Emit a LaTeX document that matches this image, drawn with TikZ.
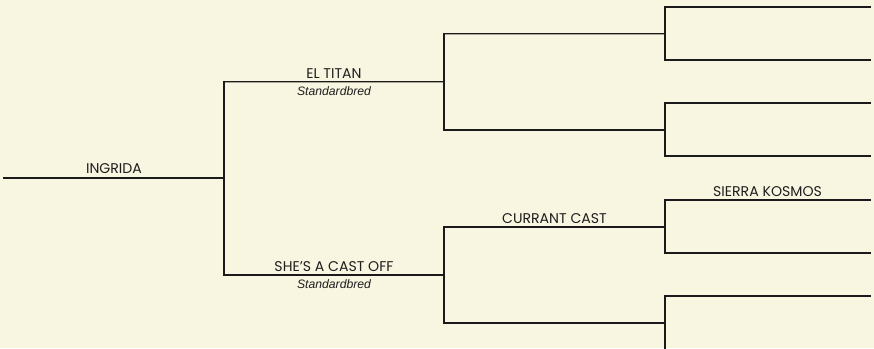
\documentclass[tikz,border=0pt]{standalone}
\usetikzlibrary{calc}
\usepackage{fontspec}
\setmainfont{Poppins}
\newfontfamily\breedfont{Liberation Sans}
\definecolor{bgcol}{HTML}{F8F5E0}
\definecolor{linecol}{HTML}{1A1A1A}
\definecolor{shadowcol}{HTML}{A8A696}
\definecolor{textcol}{HTML}{1E1E1E}
\begin{document}
\begin{tikzpicture}[x=1pt,y=-1pt,
  pedline/.style={draw=linecol,line width=1.4pt,line cap=rect},
  namelabel/.style={anchor=base,inner sep=0pt,text=textcol,font=\fontsize{14.1}{16}\selectfont},
  breedlabel/.style={anchor=base,inner sep=0pt,text=textcol,font=\breedfont\itshape\fontsize{12.2}{14}\selectfont}]
\useasboundingbox[fill=bgcol] (0,0) rectangle (874,348);
% generation 1
\coordinate (s1) at (4,178);   \coordinate (e1) at (224,178);
% generation 2
\coordinate (s2a) at (224,81.5); \coordinate (e2a) at (444,81.5);
\coordinate (s2b) at (224,275);  \coordinate (e2b) at (444,275);
% generation 3
\coordinate (s3a) at (444,33.5); \coordinate (e3a) at (665,33.5);
\coordinate (s3b) at (444,130);  \coordinate (e3b) at (665,130);
\coordinate (s3c) at (444,227);  \coordinate (e3c) at (665,227);
\coordinate (s3d) at (444,323);  \coordinate (e3d) at (665,323);
% generation 4
\coordinate (s4a) at (665,7);   \coordinate (e4a) at (870,7);
\coordinate (s4b) at (665,60);  \coordinate (e4b) at (870,60);
\coordinate (s4c) at (665,103); \coordinate (e4c) at (870,103);
\coordinate (s4d) at (665,156); \coordinate (e4d) at (870,156);
\coordinate (s4e) at (665,200); \coordinate (e4e) at (870,200);
\coordinate (s4f) at (665,253); \coordinate (e4f) at (870,253);
\coordinate (s4g) at (665,296); \coordinate (e4g) at (870,296);
\coordinate (s4h) at (665,350);
% lines
\foreach \a/\b in {s1/e1,s2a/e2a,s2b/e2b,s3a/e3a,s3b/e3b,s3c/e3c,s3d/e3d,
  s4a/e4a,s4b/e4b,s4c/e4c,s4d/e4d,s4e/e4e,s4f/e4f,s4g/e4g,
  s2a/s2b,s3a/s3b,s3c/s3d,s4a/s4b,s4c/s4d,s4e/s4f,s4g/s4h}
  {\draw[draw=shadowcol,line width=1.4pt,line cap=rect,transform canvas={xshift=0.6pt,yshift=-0.6pt}] (\a) -- (\b);
   \draw[pedline] (\a) -- (\b);}
% labels
\node[namelabel] (ingrida) at ($(s1)!0.5!(e1)+(0,-5)$) {INGRIDA};
\node[namelabel] (eltitan) at ($(s2a)!0.5!(e2a)+(0,-3.5)$) {EL TITAN};
\node[breedlabel] (eltitanbreed) at ($(s2a)!0.5!(e2a)+(0,13.5)$) {Standardbred};
\node[namelabel] (shes) at ($(s2b)!0.5!(e2b)+(0,-4)$) {SHE{\char"0027}S A CAST OFF};
\node[breedlabel] (shesbreed) at ($(s2b)!0.5!(e2b)+(0,13)$) {Standardbred};
\node[namelabel] (currant) at ($(s3c)!0.5!(e3c)+(0,-4)$) {CURRANT CAST};
\node[namelabel] (sierra) at ($(s4e)!0.5!(e4e)+(0,-4)$) {SIERRA KOSMOS};
\end{tikzpicture}
\end{document}
